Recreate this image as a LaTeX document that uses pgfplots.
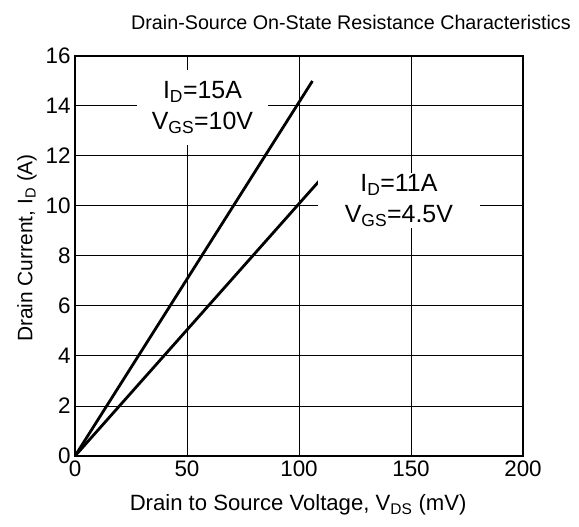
\documentclass[border=0pt]{standalone}
\usepackage{fontspec}
\setmainfont{Liberation Sans}
\usepackage{pgfplots}
\pgfplotsset{compat=1.18}
\begin{document}
\begin{tikzpicture}
\path[use as bounding box] (-75bp,-71bp) rectangle (504bp,456bp);
\begin{axis}[
  scale only axis,
  width=448bp, height=400bp,
  xmin=0, xmax=200, ymin=0, ymax=16,
  xtick={0,50,...,200}, ytick={0,2,...,16},
  grid=major,
  major grid style={black, line width=1bp},
  axis line style={black, line width=1.6bp},
  major tick length=0pt,
  /pgf/number format/assume math mode=true,
  tick label style={font=\fontsize{22.5}{26}\selectfont},
  xticklabel style={yshift=-1bp},
  yticklabel style={xshift=-1bp},
  xlabel={Drain to Source Voltage, V\textsubscript{DS} (mV)},
  ylabel={Drain Current, I\textsubscript{D} (A)},
  every axis x label/.style={at={(axis description cs:0.498,-0.1225)},anchor=center,font=\fontsize{22.2}{25}\selectfont},
  every axis y label/.style={at={(axis description cs:-0.107,0.52)},anchor=center,rotate=90,font=\fontsize{21}{24}\selectfont},
  title={Drain-Source On-State Resistance Characteristics},
  every axis title/.style={at={(axis description cs:0.616,1.085)},anchor=center,font=\fontsize{19.8}{23}\selectfont},
  clip=false,
]
\addplot[black, line width=2.8bp] coordinates {(0,0) (106,15)};
\addplot[black, line width=2.8bp] coordinates {(0,0) (109,11)};
\node[fill=white, align=center, inner sep=0pt, minimum width=131bp, minimum height=75bp, font=\fontsize{25}{31}\selectfont] at (axis cs:56.9,13.94) {I\textsubscript{D}=15A\\V\textsubscript{GS}=10V};
\node[fill=white, align=center, inner sep=0pt, minimum width=162bp, minimum height=55bp, font=\fontsize{25}{31}\selectfont] at (axis cs:144.6,10.22) {I\textsubscript{D}=11A\\V\textsubscript{GS}=4.5V};
\end{axis}
\end{tikzpicture}
\end{document}
